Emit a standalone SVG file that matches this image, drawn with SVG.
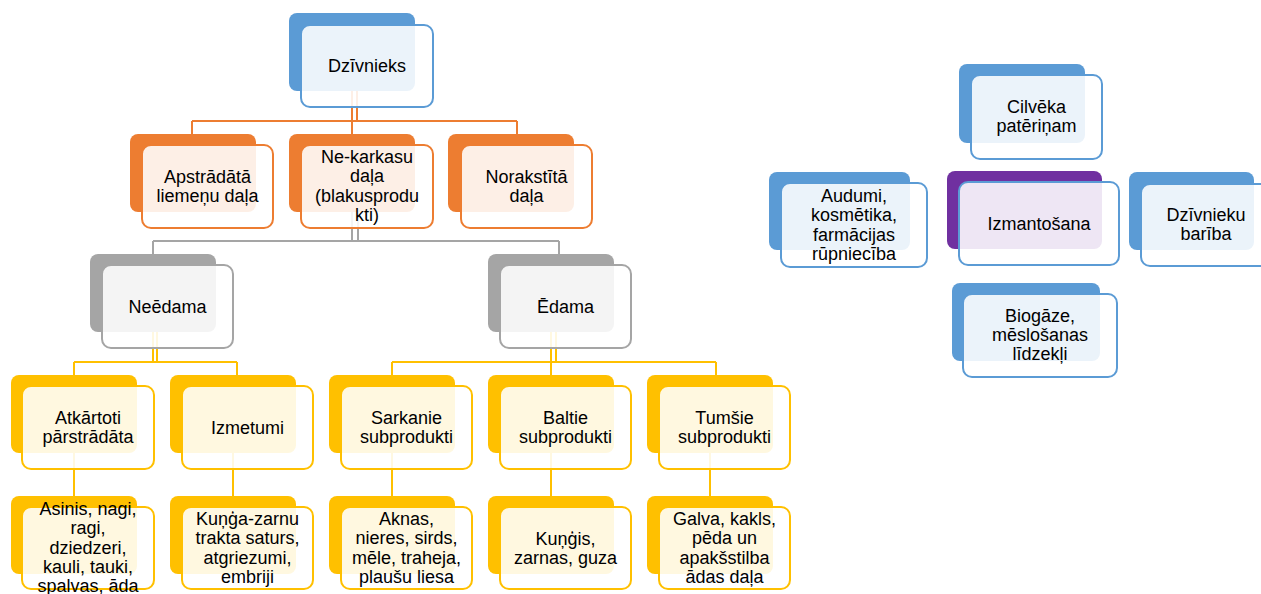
<svg xmlns="http://www.w3.org/2000/svg" width="1261" height="594" viewBox="0 0 1261 594">
<style>
text{font-family:"Liberation Sans",Arial,sans-serif;font-size:18px;fill:#000;text-anchor:middle}
.b{stroke:none}
.f{fill:#fff;fill-opacity:0.88;stroke-width:2}
.blue .b{fill:#5B9BD5}.blue .f{stroke:#5B9BD5}
.or .b{fill:#ED7D31}.or .f{stroke:#ED7D31}
.gr .b{fill:#A5A5A5}.gr .f{stroke:#A5A5A5}
.ye .b{fill:#FFC000}.ye .f{stroke:#FFC000}
.pu .b{fill:#7030A0}.pu .f{stroke:#5B9BD5}
.c{fill:none;stroke-width:2}
.co{stroke:#ED7D31}.cg{stroke:#A5A5A5}.cy{stroke:#FFC000}
</style>
<rect width="1261" height="594" fill="#fff"/>
<g id="connectors">
<path class="c co" d="M357,91V121M352,91V134M192,121H517M192,121V134M517,121V134"/>
<path class="c cg" d="M352,212V241M358,212V241M153,241H559M153,241V254M559,241V254"/>
<path class="c cy" d="M153,332V362M157,332V362M74,362H237M74,362V375M237,362V375"/>
<path class="c cy" d="M551,332V362M556,332V362M392,362H716M392,362V375M551,362V375M716,362V375"/>
<path class="c cy" d="M74,453V496M233,453V496M392,453V496M551,453V496M710,453V496"/>
</g>
<g id="dzivnieks" class="blue">
<rect class="b" x="289" y="13" width="126" height="78" rx="8"/>
<rect class="f" x="301" y="25" width="132" height="82" rx="9"/>
<text x="367" y="72">Dzīvnieks</text>
</g>
<g id="apstradata" class="or">
<rect class="b" x="130" y="134" width="126" height="78" rx="8"/>
<rect class="f" x="142" y="145" width="131" height="83" rx="9"/>
<text x="207.5" y="183">Apstrādātā</text>
<text x="207.5" y="202.3">liemeņu daļa</text>
</g>
<g id="nekarkasu" class="or">
<rect class="b" x="289" y="134" width="126" height="78" rx="8"/>
<rect class="f" x="301" y="145" width="132" height="83" rx="9"/>
<text x="367" y="163">Ne-karkasu</text>
<text x="367" y="182.3">daļa</text>
<text x="367" y="201.6">(blakusprodu</text>
<text x="367" y="220.9">kti)</text>
</g>
<g id="norakstita" class="or">
<rect class="b" x="448" y="134" width="126" height="78" rx="8"/>
<rect class="f" x="461" y="145" width="131" height="83" rx="9"/>
<text x="526.5" y="183">Norakstītā</text>
<text x="526.5" y="202.3">daļa</text>
</g>
<g id="needama" class="gr">
<rect class="b" x="90" y="254" width="126" height="78" rx="8"/>
<rect class="f" x="102" y="265" width="131" height="83" rx="9"/>
<text x="167.5" y="313">Neēdama</text>
</g>
<g id="edama" class="gr">
<rect class="b" x="488" y="254" width="126" height="78" rx="8"/>
<rect class="f" x="500" y="265" width="131" height="83" rx="9"/>
<text x="565.5" y="313">Ēdama</text>
</g>
<g id="atkartoti" class="ye">
<rect class="b" x="11" y="375" width="126" height="78" rx="8"/>
<rect class="f" x="22" y="386" width="132" height="83" rx="9"/>
<text x="88" y="424">Atkārtoti</text>
<text x="88" y="443.3">pārstrādāta</text>
</g>
<g id="izmetumi" class="ye">
<rect class="b" x="170" y="375" width="126" height="78" rx="8"/>
<rect class="f" x="182" y="386" width="131" height="83" rx="9"/>
<text x="247.5" y="434">Izmetumi</text>
</g>
<g id="sarkanie" class="ye">
<rect class="b" x="329" y="375" width="126" height="78" rx="8"/>
<rect class="f" x="341" y="386" width="131" height="83" rx="9"/>
<text x="406.5" y="424">Sarkanie</text>
<text x="406.5" y="443.3">subprodukti</text>
</g>
<g id="baltie" class="ye">
<rect class="b" x="488" y="375" width="126" height="78" rx="8"/>
<rect class="f" x="500" y="386" width="131" height="83" rx="9"/>
<text x="565.5" y="424">Baltie</text>
<text x="565.5" y="443.3">subprodukti</text>
</g>
<g id="tumsie" class="ye">
<rect class="b" x="647" y="375" width="126" height="78" rx="8"/>
<rect class="f" x="659" y="386" width="131" height="83" rx="9"/>
<text x="724.5" y="424">Tumšie</text>
<text x="724.5" y="443.3">subprodukti</text>
</g>
<g id="asinis" class="ye">
<rect class="b" x="11" y="496" width="126" height="78" rx="8"/>
<rect class="f" x="22" y="507" width="132" height="82" rx="9"/>
<text x="88" y="515">Asinis, nagi,</text>
<text x="88" y="534.3">ragi,</text>
<text x="88" y="553.6">dziedzeri,</text>
<text x="88" y="572.9">kauli, tauki,</text>
<text x="88" y="592.2">spalvas, āda</text>
</g>
<g id="kunga" class="ye">
<rect class="b" x="170" y="496" width="126" height="78" rx="8"/>
<rect class="f" x="182" y="507" width="131" height="82" rx="9"/>
<text x="247.5" y="525">Kuņģa-zarnu</text>
<text x="247.5" y="544.3">trakta saturs,</text>
<text x="247.5" y="563.6">atgriezumi,</text>
<text x="247.5" y="582.9">embriji</text>
</g>
<g id="aknas" class="ye">
<rect class="b" x="329" y="496" width="126" height="78" rx="8"/>
<rect class="f" x="341" y="507" width="131" height="82" rx="9"/>
<text x="406.5" y="525">Aknas,</text>
<text x="406.5" y="544.3">nieres, sirds,</text>
<text x="406.5" y="563.6">mēle, traheja,</text>
<text x="406.5" y="582.9">plaušu liesa</text>
</g>
<g id="kungis" class="ye">
<rect class="b" x="488" y="496" width="126" height="78" rx="8"/>
<rect class="f" x="500" y="507" width="131" height="82" rx="9"/>
<text x="565.5" y="544.5">Kuņģis,</text>
<text x="565.5" y="563.8">zarnas, guza</text>
</g>
<g id="galva" class="ye">
<rect class="b" x="647" y="496" width="126" height="78" rx="8"/>
<rect class="f" x="659" y="507" width="131" height="82" rx="9"/>
<text x="724.5" y="525">Galva, kakls,</text>
<text x="724.5" y="544.3">pēda un</text>
<text x="724.5" y="563.6">apakšstilba</text>
<text x="724.5" y="582.9">ādas daļa</text>
</g>
<g id="cilveka" class="blue">
<rect class="b" x="959" y="64" width="126" height="79" rx="8"/>
<rect class="f" x="971" y="75" width="131" height="84" rx="9"/>
<text x="1036.5" y="113">Cilvēka</text>
<text x="1036.5" y="132.3">patēriņam</text>
</g>
<g id="izmantosana" class="pu">
<rect class="b" x="947" y="171" width="155" height="78" rx="8"/>
<rect class="f" x="959" y="182" width="160" height="83" rx="9"/>
<text x="1039" y="230">Izmantošana</text>
</g>
<g id="audumi" class="blue">
<rect class="b" x="769" y="172" width="141" height="78" rx="8"/>
<rect class="f" x="781" y="183" width="146" height="84" rx="9"/>
<text x="854" y="202">Audumi,</text>
<text x="854" y="221.3">kosmētika,</text>
<text x="854" y="240.6">farmācijas</text>
<text x="854" y="259.9">rūpniecība</text>
</g>
<g id="dzivnieku" class="blue">
<rect class="b" x="1129" y="172" width="125" height="78" rx="8"/>
<rect class="f" x="1141" y="184" width="131" height="82" rx="9"/>
<text x="1206" y="221">Dzīvnieku</text>
<text x="1206" y="240.3">barība</text>
</g>
<g id="biogaze" class="blue">
<rect class="b" x="952" y="283" width="148" height="78" rx="8"/>
<rect class="f" x="963" y="294" width="154" height="83" rx="9"/>
<text x="1040" y="321.5">Biogāze,</text>
<text x="1040" y="340.8">mēslošanas</text>
<text x="1040" y="360.1">līdzekļi</text>
</g>
</svg>
